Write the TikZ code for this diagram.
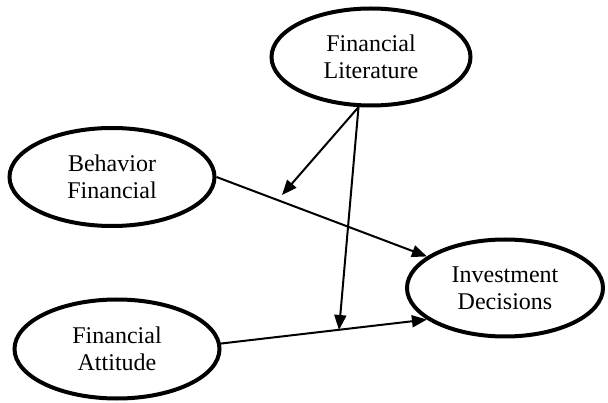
\documentclass[tikz,border=0pt]{standalone}
\usepackage{fontspec}
\setmainfont{Liberation Serif}
\usetikzlibrary{shapes.geometric,arrows.meta}
\begin{document}
\begin{tikzpicture}[x=1pt,y=-1pt,
  construct/.style={draw,ellipse,line width=4pt,align=center,inner sep=0pt,
    font=\fontsize{24}{27}\selectfont},
  link/.style={line width=2pt,-{Triangle[length=15pt,width=12pt]}}]
\useasboundingbox (0,0) rectangle (608,403);
\node[construct,minimum width=199pt,minimum height=97pt] (lit) at (371,57) {Financial\\Literature};
\node[construct,minimum width=205pt,minimum height=98pt] (beh) at (112,177) {Behavior\\Financial};
\node[construct,minimum width=196pt,minimum height=97pt] (inv) at (505,288) {Investment\\Decisions};
\node[construct,minimum width=205pt,minimum height=99pt] (att) at (117,349) {Financial\\Attitude};
\coordinate (m1) at (282,195);
\coordinate (m2) at (339,330);
\draw[link] (beh.east) -- (inv.158);
\draw[link] (att.3) -- (inv.202);
\draw[link] (lit.256) -- (m1);
\draw[link] (lit.256) -- (m2);
\end{tikzpicture}
\end{document}
